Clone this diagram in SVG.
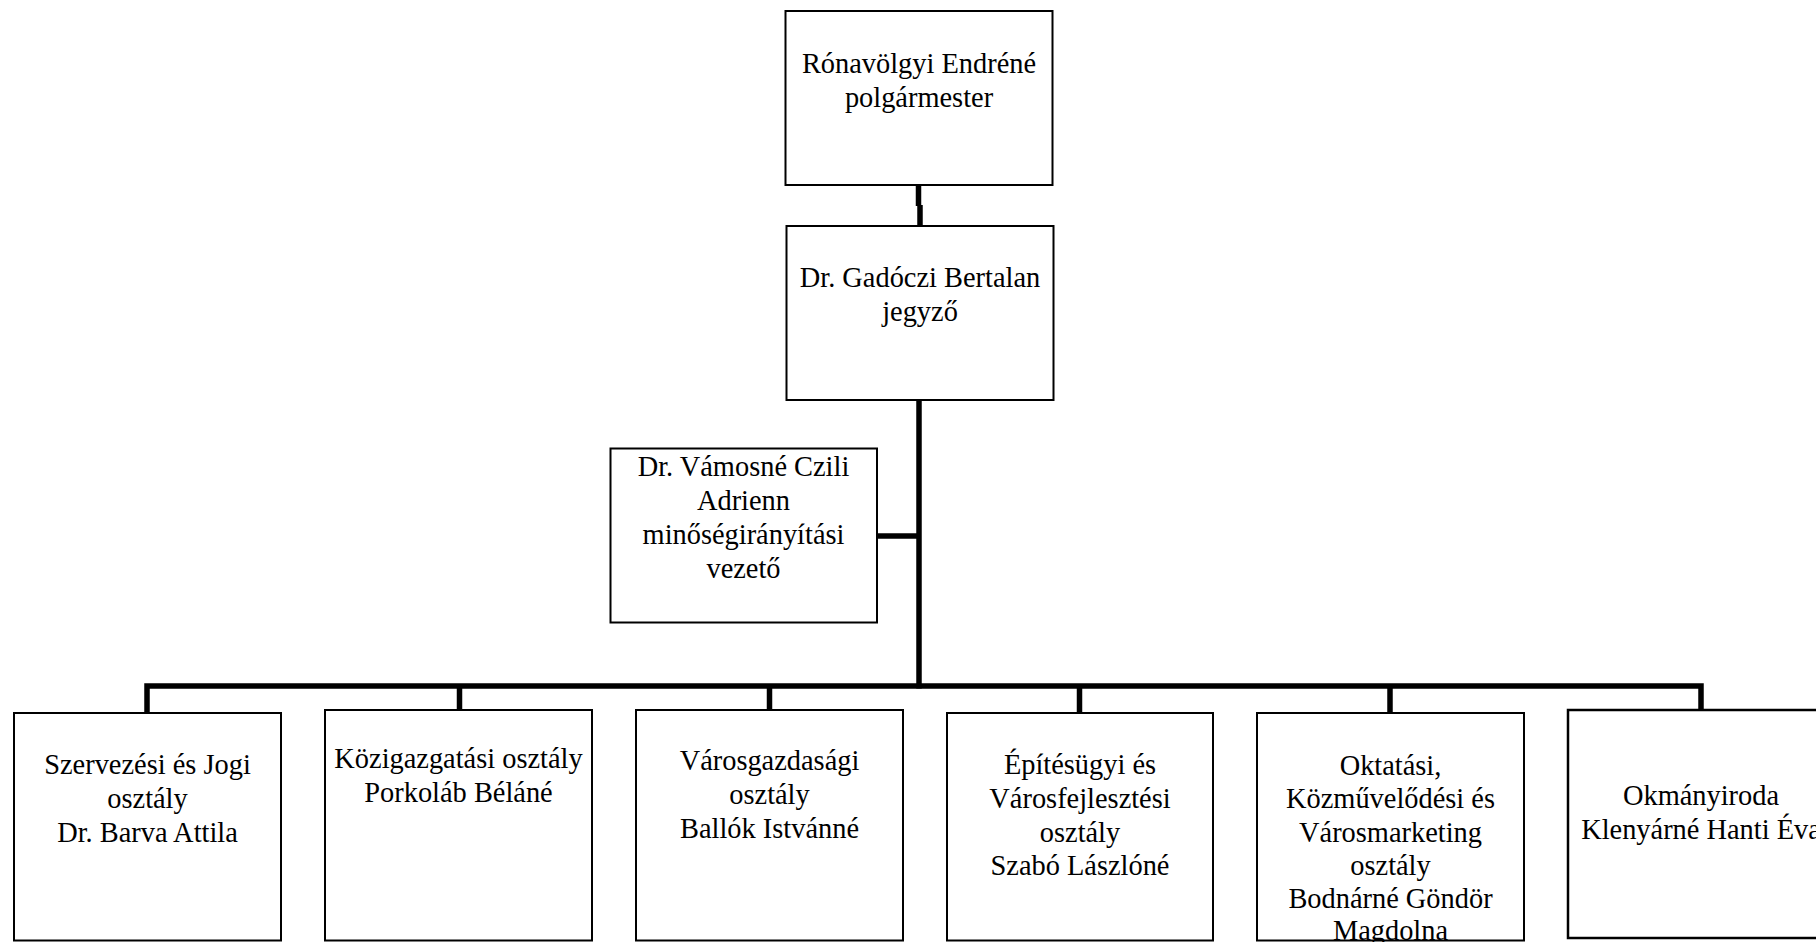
<svg xmlns="http://www.w3.org/2000/svg" width="1816" height="942" viewBox="0 0 1816 942">
<style>
.box{fill:#fff;stroke:#000;stroke-width:2}
text{font-family:'Liberation Serif','Times New Roman',Times,serif;font-size:28.4px;fill:#000;text-anchor:middle}
.c{fill:none;stroke:#000;stroke-width:5.5;stroke-linecap:butt}
</style>
<rect width="1816" height="942" fill="#fff"/>
<g id="connectors">
<line class="c" x1="918.5" y1="185" x2="918.5" y2="206"/>
<line class="c" x1="920" y1="205" x2="920" y2="226"/>
<line class="c" x1="919" y1="400" x2="919" y2="688.5"/>
<line class="c" x1="877" y1="536" x2="919" y2="536"/>
<polyline class="c" points="147,712 147,686 1701,686 1701,710"/>
<line class="c" x1="459.5" y1="686" x2="459.5" y2="710"/>
<line class="c" x1="769.5" y1="686" x2="769.5" y2="710"/>
<line class="c" x1="1079.5" y1="686" x2="1079.5" y2="713"/>
<line class="c" x1="1390" y1="686" x2="1390" y2="713"/>
</g>
<g id="polgarmester">
<rect class="box" x="785.5" y="11" width="267" height="174"/>
<text x="919" y="72.7">Rónavölgyi Endréné</text>
<text x="919" y="106.7">polgármester</text>
</g>
<g id="jegyzo">
<rect class="box" x="786.5" y="226" width="267" height="174"/>
<text x="920" y="286.7">Dr. Gadóczi Bertalan</text>
<text x="920" y="321">jegyző</text>
</g>
<g id="minoseg">
<rect class="box" x="610.5" y="448.5" width="266.5" height="174"/>
<text x="743.5" y="476">Dr. Vámosné Czili</text>
<text x="743.5" y="510">Adrienn</text>
<text x="743.5" y="544">minőségirányítási</text>
<text x="743.5" y="577.5">vezető</text>
</g>
<g id="szervezesi">
<rect class="box" x="14" y="713" width="267" height="227.5"/>
<text x="147.5" y="774">Szervezési és Jogi</text>
<text x="147.5" y="807.5">osztály</text>
<text x="147.5" y="841.5">Dr. Barva Attila</text>
</g>
<g id="kozigazgatasi">
<rect class="box" x="325" y="710" width="267" height="230.5"/>
<text x="458.5" y="768.3">Közigazgatási osztály</text>
<text x="458.5" y="801.7">Porkoláb Béláné</text>
</g>
<g id="varosgazdasagi">
<rect class="box" x="636" y="710" width="267" height="230.5"/>
<text x="769.5" y="770">Városgazdasági</text>
<text x="769.5" y="803.5">osztály</text>
<text x="769.5" y="837.5">Ballók Istvánné</text>
</g>
<g id="epitesugyi">
<rect class="box" x="947" y="713" width="266" height="227.5"/>
<text x="1080" y="773.5">Építésügyi és</text>
<text x="1080" y="807.5">Városfejlesztési</text>
<text x="1080" y="841.5">osztály</text>
<text x="1080" y="875">Szabó Lászlóné</text>
</g>
<g id="oktatasi">
<text x="1390.5" y="774.5">Oktatási,</text>
<text x="1390.5" y="808">Közművelődési és</text>
<text x="1390.5" y="841.5">Városmarketing</text>
<text x="1390.5" y="875">osztály</text>
<text x="1390.5" y="908">Bodnárné Göndör</text>
<text x="1390.5" y="940">Magdolna</text>
<rect class="box" x="1257" y="713" width="267" height="227.5" style="fill:none"/>
</g>
<g id="okmanyiroda">
<rect class="box" x="1568" y="710" width="267" height="228" style="stroke-width:2.5"/>
<text x="1701" y="805">Okmányiroda</text>
<text x="1701" y="839">Klenyárné Hanti Éva</text>
</g>
</svg>
